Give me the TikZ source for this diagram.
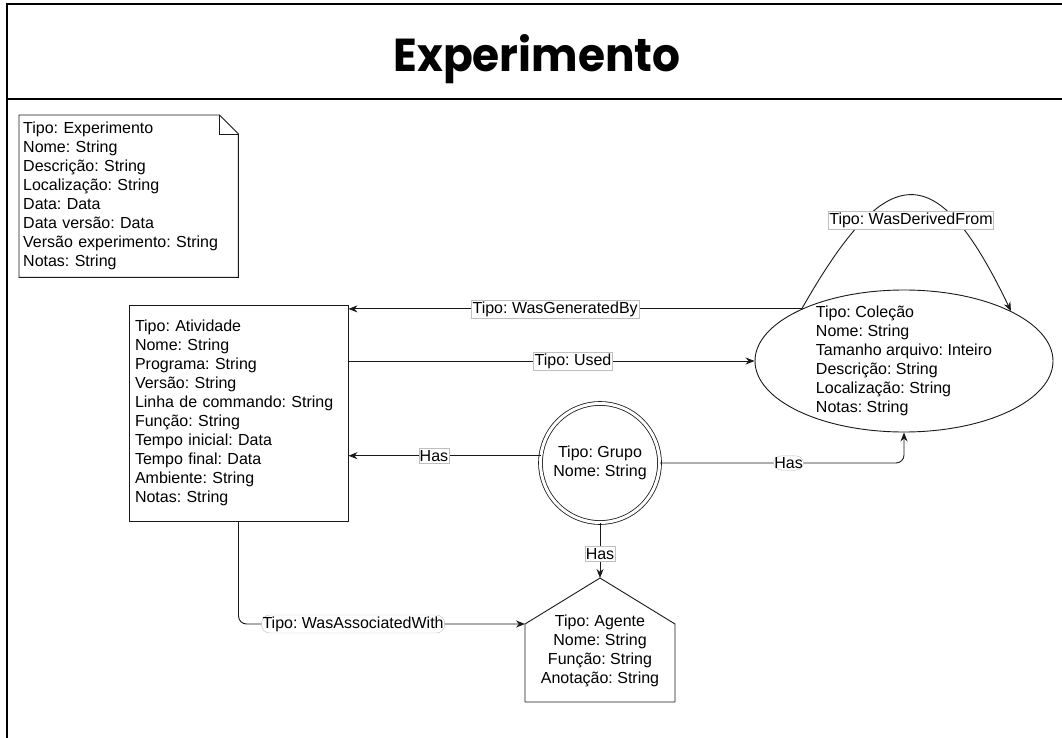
\documentclass[tikz,border=0pt]{standalone}
\usepackage{fontspec}
\usepackage{graphicx}
\setmainfont{Liberation Sans}
\newfontfamily\titlefont{Poppins}
\usetikzlibrary{arrows.meta,shapes.geometric,calc}
\frenchspacing

\begin{document}
\begin{tikzpicture}[x=1pt,y=-1pt,
  font=\fontsize{16}{19}\selectfont,
  outline/.style={draw=black!90, line width=0.9pt},
  edge/.style={draw=black!90, line width=0.9pt, -{Stealth[length=9pt,width=7pt]}},
  lbl/.style={fill=white, draw=black!25, line width=0.4pt, inner xsep=1pt, inner ysep=1.5pt},
  frame/.style={draw=black, line width=1.3pt},
]
\useasboundingbox (0,0) rectangle (1062,738);

% page frame and header
\draw[frame] (7,738) -- (7,4) -- (1062,4);
\draw[frame] (7,99) -- (1062,99);
\node[anchor=base, inner sep=0pt] (title) at (537,72)
  {\resizebox{287pt}{37pt}{\fontsize{50}{50}\titlefont\bfseries Experimento}};

% experiment note with folded corner
\node[anchor=north west, minimum width=219pt, minimum height=162pt,
      inner xsep=4pt, text width=211pt, align=left] (note) at (19,115)
  {Tipo: Experimento\\Nome: String\\Descrição: String\\Localização: String\\Data: Data\\Data versão: Data\\Versão experimento: String\\Notas: String};
\draw[outline] (note.north west) -- ($(note.north east)+(-19,0)$) -- ($(note.north east)+(0,19)$)
  -- (note.south east) -- (note.south west) -- cycle;
\draw[outline] ($(note.north east)+(-19,0)$) -- ++(0,19) -- ++(19,0);

% activity
\node[outline, rectangle, minimum width=219pt, minimum height=216pt,
      inner xsep=6pt, text width=207pt, align=left] (act) at (238.5,413)
  {Tipo: Atividade\\Nome: String\\Programa: String\\Versão: String\\Linha de commando: String\\Função: String\\Tempo inicial: Data\\Tempo final: Data\\Ambiente: String\\Notas: String};

% collection
\node[outline, ellipse, minimum width=298pt, minimum height=142pt, inner sep=0pt] (coll) at (904,361) {};
\node[align=left, inner sep=0pt] (colltext) at (coll.center)
  {Tipo: Coleção\\Nome: String\\Tamanho arquivo: Inteiro\\Descrição: String\\Localização: String\\Notas: String};

% group
\node[circle, draw=black!90, line width=0.8pt, double, double distance=3pt,
      minimum size=119pt, inner sep=0pt, align=center] (grp) at (600,463)
  {Tipo: Grupo\\Nome: String};

% agent (house shape)
\coordinate (agtop) at (600,578);
\coordinate (agL) at (525,624);
\coordinate (agR) at (675,624);
\coordinate (agBL) at (525,702);
\coordinate (agBR) at (675,702);
\draw[outline] (agtop) -- (agR) -- (agBR) -- (agBL) -- (agL) -- cycle;
\node[align=center, inner sep=0pt] (agent) at (600,651)
  {Tipo: Agente\\Nome: String\\Função: String\\Anotação: String};

% relations
\draw[edge] (coll.153) .. controls (888,157) and (937,157) .. (coll.25)
  node[lbl, pos=0.5, yshift=-25pt] (lderived) {Tipo: WasDerivedFrom};
\draw[edge] (coll.153) -- node[lbl, pos=0.544] (lgen) {Tipo: WasGeneratedBy} (coll.153 -| act.east);
\draw[edge] (act.east |- coll.west) -- node[lbl, pos=0.553] (lused) {Tipo: Used} (coll.west);
\draw[edge] (grp.173) -- node[lbl, pos=0.555] (lhas1) {Has} (grp.173 -| act.east);
\draw[edge, rounded corners=8pt] (grp.east) -- node[lbl, pos=0.527] (lhas2) {Has} (grp.east -| coll.south) -- (coll.south);
\draw[edge] (grp.south) -- node[lbl, pos=0.56] (lhas3) {Has} (agtop);
\draw[edge, rounded corners=8pt] (act.south) -- (act.south |- agL)
  -- node[lbl, pos=0.40] (lassoc) {Tipo: WasAssociatedWith} (agL);
\end{tikzpicture}
\end{document}
